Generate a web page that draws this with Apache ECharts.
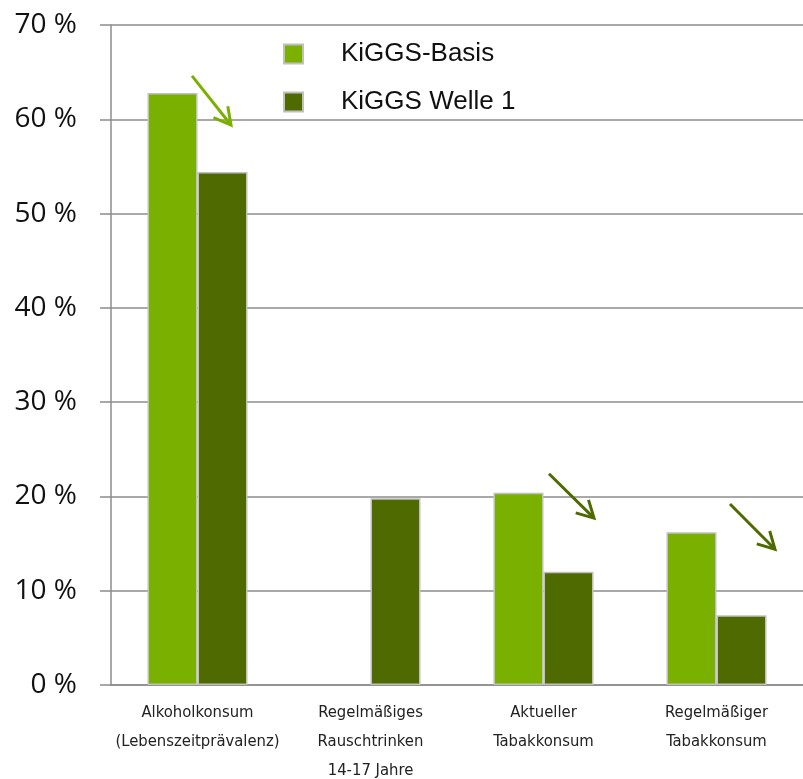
<!DOCTYPE html>
<html><head><meta charset="utf-8">
<script src="https://cdn.jsdelivr.net/npm/echarts@6/dist/echarts.min.js"></script>
<style>html,body{margin:0;padding:0;background:#fff}#c{width:803px;height:779px}</style>
</head><body><div id="c"></div>
<script>
const categories = ['Alkoholkonsum\n(Lebenszeitprävalenz)', 'Regelmäßiges\nRauschtrinken\n14-17 Jahre', 'Aktueller\nTabakkonsum', 'Regelmäßiger\nTabakkonsum'];
const seriesNames = ['KiGGS-Basis', 'KiGGS Welle 1'];
const basis = [62.8, null, 20.4, 16.2];
const welle1 = [54.4, 19.8, 12.0, 7.4];
const yTicks = [0, 10, 20, 30, 40, 50, 60, 70];
// arrows: [category index, start value, end value, colour key]
const arrows = [[0, 64.6, 59.4, 'light'], [2, 22.4, 17.7, 'dark'], [3, 19.2, 14.4, 'dark']];

const LIGHT = '#7ab000', DARK = '#4f6a00';
const chart = echarts.init(document.getElementById('c'));
const barStyle = c => ({color: c, borderColor: '#c0c0c0', borderWidth: 1.5});
chart.setOption({
  animation: false,
  grid: {left: 111, right: 0, top: 25, bottom: 94, containLabel: false, outerBoundsMode: 'none'},
  legend: {
    orient: 'vertical', left: 278, top: 36, itemWidth: 19, itemHeight: 19, itemGap: 22, icon: 'rect',
    textStyle: {fontFamily: 'Liberation Sans', fontSize: 26, color: '#111', padding: [0, 0, 0, 33]},
    data: seriesNames
  },
  xAxis: {
    type: 'category', data: categories,
    axisLine: {lineStyle: {color: '#8c8c8c', width: 1.5}},
    axisTick: {show: false},
    axisLabel: {fontFamily: "'DejaVu Sans Condensed', 'Liberation Sans Narrow', sans-serif", fontSize: 16.5, color: '#222', lineHeight: 29, margin: 13, interval: 0}
  },
  yAxis: {
    type: 'value', min: 0, max: 70, interval: 10,
    axisLine: {show: true, lineStyle: {color: '#8c8c8c', width: 1.5}},
    axisTick: {show: true, length: 11, lineStyle: {color: '#8c8c8c', width: 1.5}},
    splitLine: {lineStyle: {color: '#8c8c8c', width: 1.5}},
    axisLabel: {fontFamily: 'Open Sans', fontSize: 28, color: '#111', margin: 34,
      formatter: v => yTicks.includes(v) ? v + ' %' : ''}
  },
  series: [
    {name: seriesNames[0], type: 'bar', data: basis, barWidth: 50, barGap: '0%', itemStyle: barStyle(LIGHT)},
    {name: seriesNames[1], type: 'bar', data: welle1, barWidth: 50, barGap: '0%', itemStyle: barStyle(DARK)}
  ]
});

// arrows positioned from data via the chart's scales
const offsets = [[-5.5, 33.5], [5.5, 50.5], [13.5, 58.5]];
const elems = [];
arrows.forEach((a, i) => {
  const p0 = chart.convertToPixel({gridIndex: 0}, [a[0], a[1]]);
  const p1 = chart.convertToPixel({gridIndex: 0}, [a[0], a[2]]);
  const x0 = p0[0] + offsets[i][0], y0 = p0[1];
  const x1 = p1[0] + offsets[i][1], y1 = p1[1];
  const ang = Math.atan2(y1 - y0, x1 - x0);
  const L = 19, w = 0.5;
  const h1 = [x1 - L * Math.cos(ang - w), y1 - L * Math.sin(ang - w)];
  const h2 = [x1 - L * Math.cos(ang + w), y1 - L * Math.sin(ang + w)];
  const col = a[3] === 'light' ? LIGHT : DARK;
  elems.push({type: 'line', shape: {x1: x0, y1: y0, x2: x1, y2: y1}, style: {stroke: col, lineWidth: 3}, z: 100});
  elems.push({type: 'polyline', shape: {points: [h1, [x1, y1], h2]}, style: {stroke: col, lineWidth: 3, fill: null}, z: 100});
});
chart.setOption({graphic: elems});
</script></body></html>
